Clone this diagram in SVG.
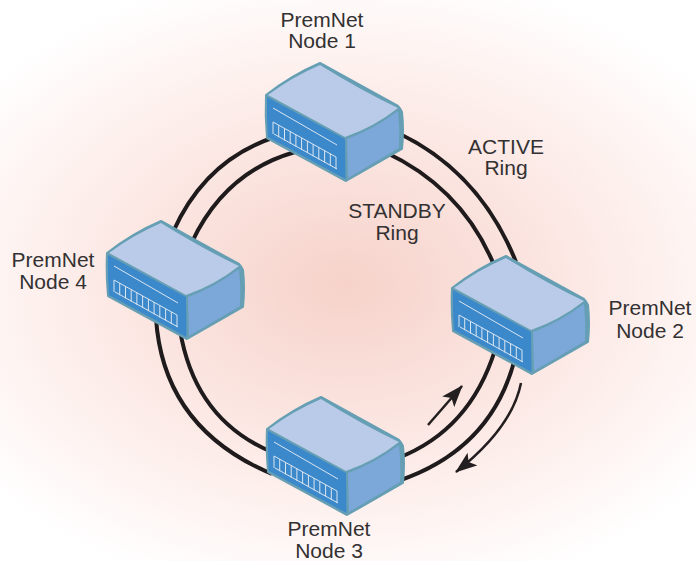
<svg xmlns="http://www.w3.org/2000/svg" width="696" height="561" viewBox="0 0 696 561">
<defs>
<radialGradient id="bg" gradientUnits="userSpaceOnUse" cx="0" cy="0" r="1" gradientTransform="translate(345 285) scale(460 320)">
<stop offset="0" stop-color="#f6d2ca"/><stop offset="0.5" stop-color="#fce8e4"/><stop offset="1" stop-color="#ffffff"/>
</radialGradient>
<marker id="ah" markerWidth="22" markerHeight="16" refX="21" refY="8" orient="auto" markerUnits="userSpaceOnUse"><path d="M0 0L22 8L0 16L5 8Z" fill="#231f20"/></marker>
<g id="box">
<path d="M-66-27Q-40-47-12-59L66-16Q68-14 70-10Q72 8 70 27L14 59L-65 16Q-67-6-66-27Z" fill="#669fb4" stroke="#669fb4" stroke-width="2" stroke-linejoin="round"/>
<path d="M-65-25L13 17L13.500 57L-64 15Q-65.500-6-65-25Z" fill="#3b88cb"/>
<path d="M15 17Q42 7 66-11Q68 8 67 26L16 56Z" fill="#7ba7d9"/>
<path d="M-64-27Q-40-45-12-57Q30-31 66-14Q42 5 13 15Z" fill="#b9cbe8"/>
<g stroke="#dbe6f1" stroke-width="1" fill="none">
<path d="M-59-14L5 23M-59 0L4 35M-58 12L5 47"/>
<path d="M-59 0V12M-53.300 3.200V15.200M-47.500 6.400V18.400M-41.800 9.500V21.500M-36.100 12.700V24.700M-30.400 15.900V27.900M-24.600 19.100V31.100M-18.900 22.300V34.300M-13.200 25.500V37.500M-7.400 28.600V40.600M-1.700 31.800V43.800M4 35V47"/>
</g>
</g>
</defs>
<style>
text{font-family:"Liberation Sans",Arial,sans-serif;font-size:21px;fill:#333132;text-anchor:middle}
.r{fill:none;stroke:#1f1b1c;stroke-width:4}
.a{fill:none;stroke:#231f20;stroke-width:2.500;marker-end:url(#ah)}
</style>
<rect width="696" height="561" fill="url(#bg)"/>
<g id="connectors">
<path class="r" d="M398 133Q480 172 516 262"/>
<path class="r" d="M385 152Q462 188 494 265"/>
<path class="r" d="M275 137Q205 160 173 232"/>
<path class="r" d="M295 152Q225 172 192 242"/>
<path class="r" d="M156 318Q163 428 272 474"/>
<path class="r" d="M180 330Q195 420 272 452"/>
<path class="r" d="M495 350Q470 430 398 458"/>
<path class="r" d="M514 362Q490 450 398 481"/>
<path class="a" d="M428 425L462 386"/>
<path class="a" d="M521 383Q512 428 456 472"/>
</g>
<g id="node1"><use href="#box" x="332" y="122"/></g>
<g id="node2"><use href="#box" x="518" y="315"/></g>
<g id="node3"><use href="#box" x="333" y="456"/></g>
<g id="node4"><use href="#box" x="173" y="280"/></g>
<g id="labels">
<text x="322" y="27">PremNet</text><text x="322" y="48">Node 1</text>
<text x="650" y="315">PremNet</text><text x="650" y="338">Node 2</text>
<text x="329" y="536">PremNet</text><text x="329" y="558">Node 3</text>
<text x="53" y="267">PremNet</text><text x="53" y="289">Node 4</text>
<text x="506" y="154">ACTIVE</text><text x="506" y="175">Ring</text>
<text x="397" y="218">STANDBY</text><text x="397" y="240">Ring</text>
</g>
</svg>
